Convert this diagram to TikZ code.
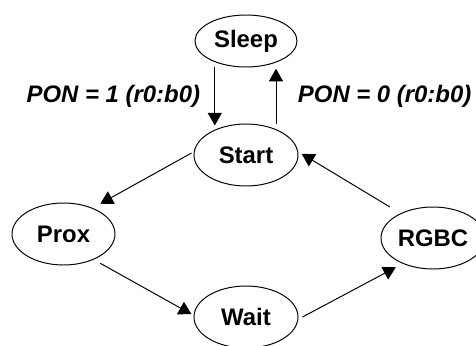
\documentclass[tikz,border=0pt]{standalone}
\usepackage{fontspec}
\setsansfont{Liberation Sans}
\usetikzlibrary{shapes, arrows.meta}

\begin{document}
\begin{tikzpicture}[
    % GLOBAL CFG
    font=\sffamily\bfseries\fontsize{17}{20}\selectfont,
    >={Triangle[length=9pt,width=10pt]},
    % Styles
    state/.style={% For the states
        ellipse,
        draw,
        line width=.7pt,
        inner sep=0pt,
        minimum width=2.6cm,
        minimum height=1.55cm,
        },
    mylabel/.style={% For the transition labels
        font=\sffamily\bfseries\itshape\fontsize{17}{20}\selectfont
        },
    ArrowC1/.style={% Thin arrows
        line width=.7pt,
        }
    ]

    % Fix the margins
    \useasboundingbox (-6.15,-4.75) rectangle (5.75,3.875);

    % Draw the states, named by their text
    \node [state, minimum width=2.55cm, minimum height=1.3cm] (sleep) at (0,2.85) {Sleep};
    \node [state] (start) at (0,0) {Start};
    \node [state, minimum width=2.575cm] (prox) at (-4.5625,-1.975) {Prox};
    \node [state] (rgbc) at (4.675,-2.075) {RGBC};
    \node [state] (wait) at (0,-4.05) {Wait};

    % Draw the labels
    \node [mylabel, anchor=east] (pon1) at (-1.025,1.47) {PON = 1 (r0:b0)};
    \node [mylabel, anchor=west] (pon0) at (1.175,1.47) {PON = 0 (r0:b0)};

% Start connecting all.
    % Power on / off
    \draw [->, ArrowC1] ([xshift=-0.78cm]sleep.south) -- ([xshift=-0.78cm,yshift=-0.05cm]start.north);
    \draw [->, ArrowC1] ([xshift=0.75cm]start.north) -- ([xshift=0.75cm,yshift=-0.03cm]sleep.south);

    % Cycle
    \draw [->, ArrowC1] ([xshift=-0.05cm,yshift=0.05cm]start.west) -- ([yshift=0.2cm]prox.north east);
    \draw [->, ArrowC1] ([yshift=-0.175cm]prox.south east) -- ([xshift=-0.05cm,yshift=0.07cm]wait.west);
    \draw [->, ArrowC1] ([xshift=0.1cm]wait.east) -- ([yshift=-0.175cm]rgbc.south west);
    \draw [->, ArrowC1] ([xshift=-0.15cm,yshift=0.22cm]rgbc.north west) -- ([xshift=0.08cm,yshift=0.03cm]start.east);

\end{tikzpicture}
\end{document}
